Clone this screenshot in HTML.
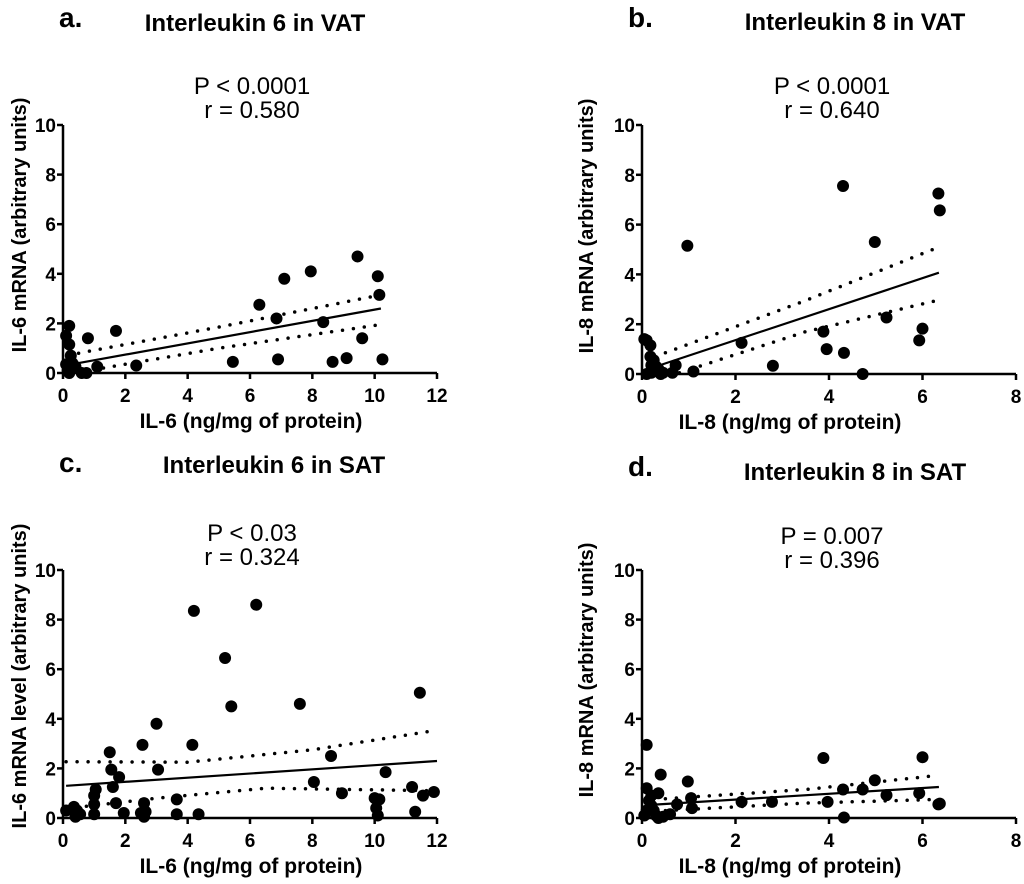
<!DOCTYPE html>
<html><head><meta charset="utf-8"><style>
body{margin:0;background:#fff;}
svg{display:block;font-family:"Liberation Sans",Arial,sans-serif;}
</style></head><body>
<svg id="fig" width="1024" height="884" viewBox="0 0 1024 884" xmlns="http://www.w3.org/2000/svg"></svg>
<script>
// Panel a: IL-6 VAT
const aX=[0.1,0.2,0.2,0.25,0.1,0.3,0.15,0.2,0.4,0.6,0.75,0.8,1.1,1.7,2.35,5.45,6.3,6.85,6.9,7.1,7.95,8.35,8.65,9.1,9.45,9.6,10.1,10.15,10.25];
const aY=[1.5,1.9,1.15,0.7,0.35,0.4,0.1,0,0.25,0,0,1.4,0.25,1.7,0.3,0.45,2.75,2.2,0.55,3.8,4.1,2.05,0.45,0.6,4.7,1.4,3.9,3.15,0.55];
const aFit=[[0.5,0.4],[10.2,2.6]];
const aUp=[[0.5,0.8],[5,1.85],[10.2,3.15]];
const aLo=[[1.3,0.2],[5,1.0],[10.2,1.95]];
// Panel b: IL-8 VAT
const bX=[0.05,0.1,0.18,0.18,0.25,0.2,0.3,0.35,0.1,0.2,0.4,0.45,0.65,0.72,0.97,1.1,2.13,2.8,3.88,3.95,4.3,4.32,4.72,4.98,5.23,5.93,6.0,6.34,6.37];
const bY=[1.4,1.35,1.15,0.7,0.55,0.35,0.3,0.2,0,0.05,0,0.05,0.05,0.35,5.15,0.1,1.25,0.33,1.7,1.0,7.55,0.85,0,5.3,2.27,1.35,1.82,7.25,6.57];
const bFit=[[0.3,0.3],[6.35,4.07]];
const bUp=[[0.5,0.85],[3.5,2.95],[6.35,5.1]];
const bLo=[[0.8,0.05],[3.5,1.7],[6.35,2.97]];
// Panel c: IL-6 SAT
const cX=[0.1,0.35,0.4,0.45,0.55,1.0,1.05,1.0,1.0,1.5,1.55,1.6,1.7,1.8,1.95,2.55,2.5,2.6,2.65,2.6,3.0,3.05,3.65,3.65,4.15,4.2,4.35,5.2,5.4,6.2,7.6,8.05,8.6,8.95,10.0,10.05,10.15,10.1,10.35,11.2,11.3,11.45,11.55,11.9];
const cY=[0.3,0.45,0.05,0.3,0.15,0.9,1.15,0.55,0.15,2.65,1.95,1.25,0.6,1.65,0.2,2.95,0.2,0.6,0.25,0.05,3.8,1.95,0.75,0.15,2.95,8.35,0.15,6.45,4.5,8.6,4.6,1.45,2.5,1.0,0.8,0.4,0.75,0.1,1.85,1.25,0.25,5.05,0.9,1.05];
const cFit=[[0.1,1.3],[12,2.3]];
const cUp=[[0.1,2.27],[4,2.25],[8,2.75],[11.8,3.5]];
const cLo=[[0.75,0.47],[3,0.8],[6.5,1.2],[11.9,1.1]];
// Panel d: IL-8 SAT
const dX=[0.1,0.1,0.2,0.15,0.4,0.35,0.2,0.25,0.1,0.05,0.3,0.35,0.45,0.6,0.75,0.98,1.05,1.07,2.13,2.78,3.88,3.97,4.3,4.32,4.72,4.98,5.23,5.93,6.0,6.34,6.37];
const dY=[2.95,1.2,0.9,0.7,1.75,1.0,0.5,0.3,0.3,0.1,0.1,0,0.05,0.15,0.55,1.47,0.8,0.4,0.65,0.65,2.42,0.65,1.15,0.02,1.15,1.52,0.92,1.0,2.45,0.55,0.58];
const dFit=[[0.1,0.52],[6.35,1.25]];
const dUp=[[0.5,0.78],[3.5,1.15],[6.35,1.72]];
const dLo=[[0.5,0.3],[3.5,0.6],[6.35,0.75]];
const xTicksA=[0,2,4,6,8,10,12], xTicksB=[0,2,4,6,8], yTicks=[0,2,4,6,8,10];

const NS="http://www.w3.org/2000/svg";
const svg=document.getElementById('fig');
function mk(tag,attrs,parent,text){const e=document.createElementNS(NS,tag);for(const k in attrs)e.setAttribute(k,attrs[k]);if(text!==undefined)e.textContent=text;(parent||svg).appendChild(e);return e;}

function panel(o){
  const g=mk('g',{});
  
  
  const sx=v=>o.x0+(v/o.xmax)*(o.x1-o.x0);
  const sy=v=>o.y0-(v/10)*(o.y0-o.y1);
  let t=mk('text',{x:o.lx,y:o.ly,'font-size':28,'font-weight':'bold'},g,o.letter);
  
  t=mk('text',{x:o.tcx,y:o.ty,'font-size':24,'font-weight':'bold','text-anchor':'middle'},g,o.title);
  
  t=mk('text',{x:o.scx,y:o.py,'font-size':24,'text-anchor':'middle'},g,o.p);
  
  t=mk('text',{x:o.scx,y:o.py+24,'font-size':24,'text-anchor':'middle'},g,o.r);
  
  let ax=mk('path',{d:`M${o.x0},${o.y1} V${o.y0} H${o.x1}`,stroke:'#000','stroke-width':2.5,fill:'none'},g);
  
  o.xt.forEach(v=>{
    mk('line',{x1:sx(v),x2:sx(v),y1:o.y0,y2:o.y0+6,stroke:'#000','stroke-width':2.5},g);
    const l=mk('text',{x:sx(v),y:o.y0+29,'font-size':19,'font-weight':'bold','text-anchor':'middle'},g,String(v));
    
  });
  yTicks.forEach(v=>{
    mk('line',{x1:o.x0-6,x2:o.x0,y1:sy(v),y2:sy(v),stroke:'#000','stroke-width':2.5},g);
    const l=mk('text',{x:o.x0-7,y:sy(v)+7,'font-size':19,'font-weight':'bold','text-anchor':'end'},g,String(v));
    
  });
  t=mk('text',{x:o.xlc,y:o.y0+55,'font-size':21,'font-weight':'bold','text-anchor':'middle'},g,o.xl);
  
  const yc=o.y0-o.ylo;
  t=mk('text',{x:o.ylx,y:yc,'font-size':20,'font-weight':'bold','text-anchor':'middle',transform:`rotate(-90 ${o.ylx} ${yc})`},g,o.yl);
  
  o.X.forEach((v,i)=>{
    const c=mk('circle',{cx:sx(v),cy:sy(o.Y[i]),r:6,fill:'#000'},g);
    
    
  });
  const pth=a=>a.map((p,i)=>(i?'L':'M')+sx(p[0]).toFixed(1)+','+sy(p[1]).toFixed(1)).join(' ');
  let ln=mk('path',{d:pth(o.fit),stroke:'#000','stroke-width':2.2,fill:'none'},g);
  
  [o.up,o.lo].forEach(a=>{
    const d=mk('path',{d:pth(a),stroke:'#000','stroke-width':3.5,fill:'none','stroke-dasharray':'0 11','stroke-linecap':'round'},g);
    
    
  });
}
panel({name:'panel-a',letter:'a.',lx:59,ly:27,title:'Interleukin 6 in VAT',tcx:255,ty:31,scx:252,py:94,p:'P < 0.0001',r:'r = 0.580',
  x0:63,x1:437,y0:373,y1:125,xmax:12,xt:xTicksA,X:aX,Y:aY,fit:aFit,up:aUp,lo:aLo,xl:'IL-6 (ng/mg of protein)',xlc:251,yl:'IL-6 mRNA (arbitrary units)',ylx:26,ylo:148});
panel({name:'panel-b',letter:'b.',lx:628,ly:27,title:'Interleukin 8 in VAT',tcx:855,ty:30,scx:832,py:94,p:'P < 0.0001',r:'r = 0.640',
  x0:642,x1:1016,y0:374,y1:125,xmax:8,xt:xTicksB,X:bX,Y:bY,fit:bFit,up:bUp,lo:bLo,xl:'IL-8 (ng/mg of protein)',xlc:790,yl:'IL-8 mRNA (arbitrary units)',ylx:593,ylo:148});
panel({name:'panel-c',letter:'c.',lx:59,ly:472,title:'Interleukin 6 in SAT',tcx:274,ty:473,scx:252,py:541,p:'P < 0.03',r:'r = 0.324',
  x0:63,x1:437,y0:818,y1:570,xmax:12,xt:xTicksA,X:cX,Y:cY,fit:cFit,up:cUp,lo:cLo,xl:'IL-6 (ng/mg of protein)',xlc:251,yl:'IL-6 mRNA level (arbitrary units)',ylx:26,ylo:142});
panel({name:'panel-d',letter:'d.',lx:628,ly:476,title:'Interleukin 8 in SAT',tcx:855,ty:480,scx:832,py:544,p:'P = 0.007',r:'r = 0.396',
  x0:642,x1:1016,y0:818,y1:570,xmax:8,xt:xTicksB,X:dX,Y:dY,fit:dFit,up:dUp,lo:dLo,xl:'IL-8 (ng/mg of protein)',xlc:790,yl:'IL-8 mRNA (arbitrary units)',ylx:593,ylo:148});
</script>
</body></html>
